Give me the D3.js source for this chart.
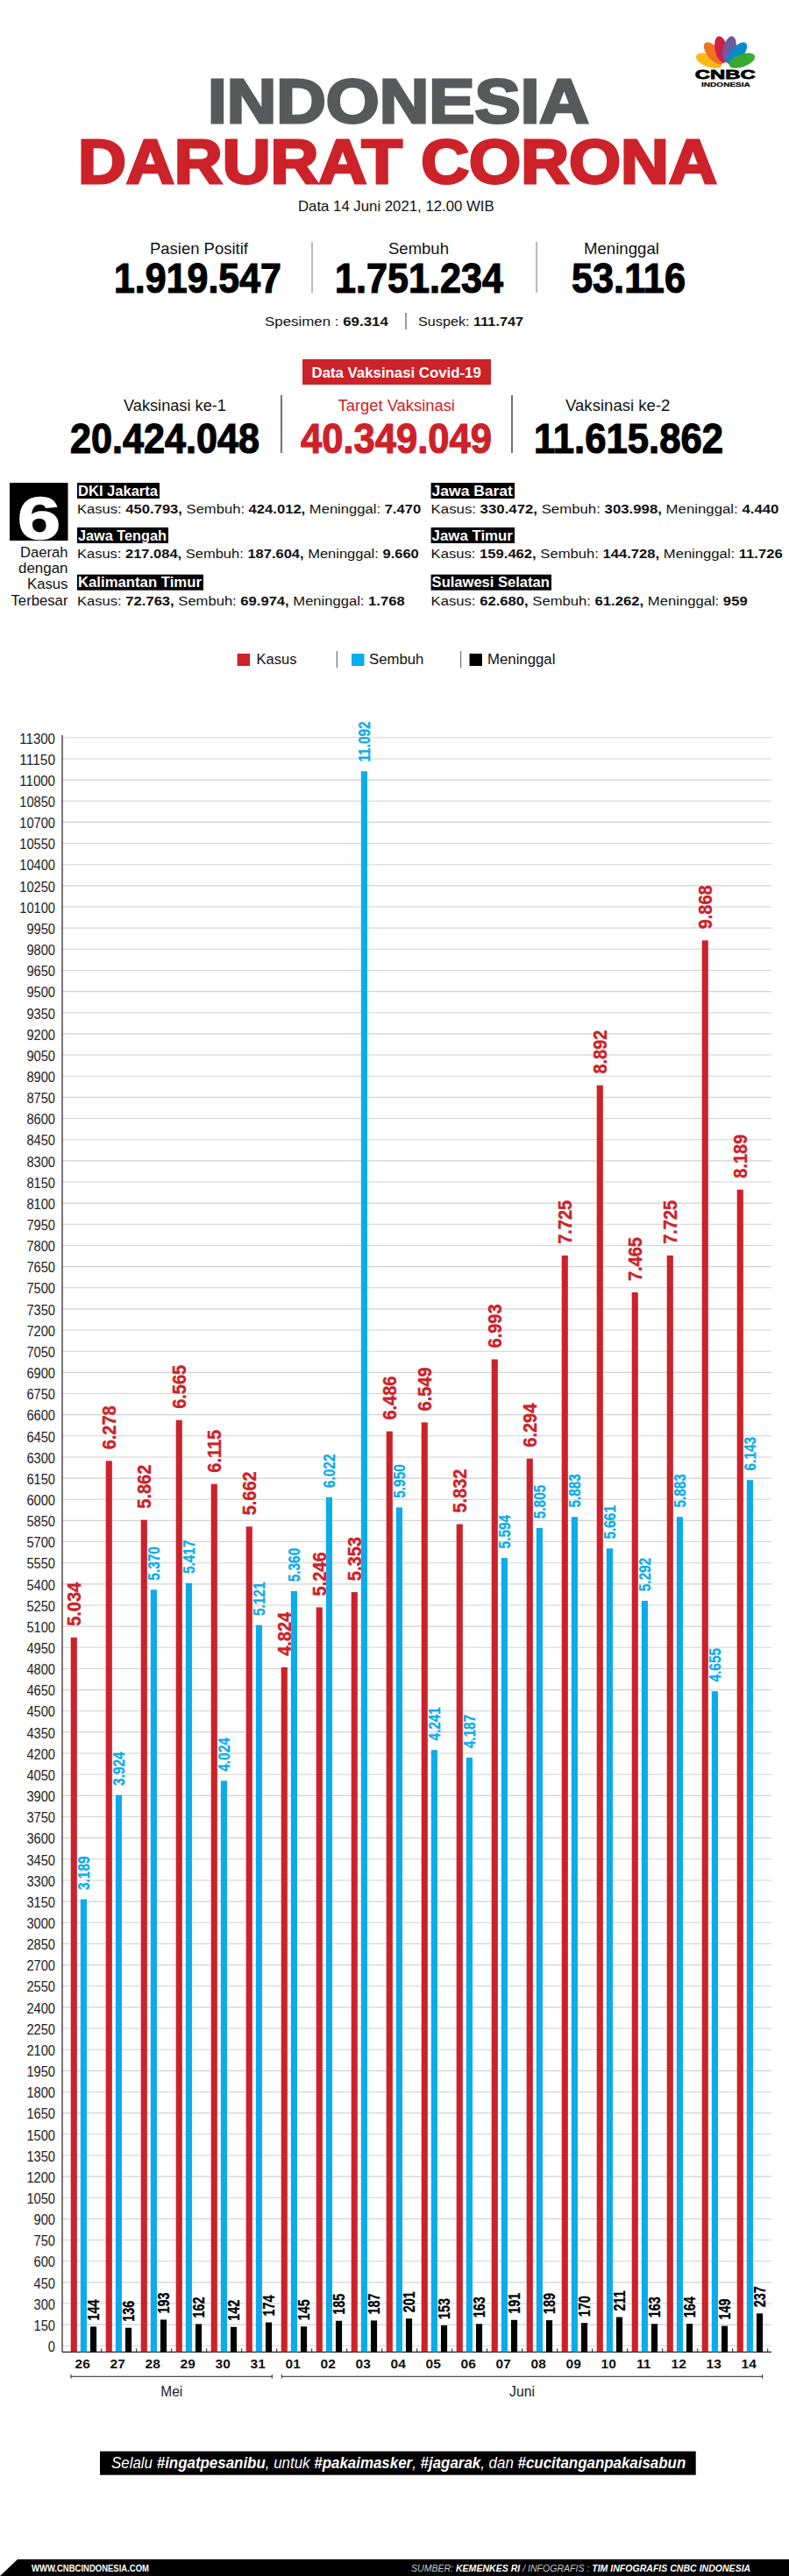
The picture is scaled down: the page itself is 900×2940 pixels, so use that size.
<!DOCTYPE html>
<html>
<head>
<meta charset="utf-8">
<title>Indonesia Darurat Corona</title>
<script src="https://cdn.jsdelivr.net/npm/d3@7"></script>
<style>
  html, body { margin: 0; padding: 0; background: #fff; }
  svg { display: block; }
  text { font-family: "Liberation Sans", Arial, sans-serif; }
</style>
</head>
<body>
<div id="chart"></div>
<script>
// data
const days = ["26","27","28","29","30","31","01","02","03","04","05","06","07","08","09","10","11","12","13","14"];
const kasus = [5034,6278,5862,6565,6115,5662,4824,5246,5353,6486,6549,5832,6993,6294,7725,8892,7465,7725,9868,8189];
const sembuh = [3189,3924,5370,5417,4024,5121,5360,6022,11092,5950,4241,4187,5594,5805,5883,5661,5292,5883,4655,6143];
const meninggal = [144,136,193,162,142,174,145,185,187,201,153,163,191,189,170,211,163,164,149,237];
// same as kasus, except that the bar of the 31st stands higher in the original than its label says
const kasusDrawn = [5034,6278,5862,6565,6115,5815,4824,5246,5353,6486,6549,5832,6993,6294,7725,8892,7465,7725,9868,8189];

// the labels are not regular, the original jumps from 8100 to 8150
const tickLabels = [0,150,300,450,600,750,900,1050,1200,1350,1500,1650,1800,1950,2100,2250,2400,2550,2700,2850,
  3000,3150,3300,3450,3600,3750,3900,4050,4200,4350,4500,4650,4800,4950,5100,5250,5400,5550,5700,5850,
  6000,6150,6300,6450,6600,6750,6900,7050,7200,7350,7500,7650,7800,7950,8100,8150,8300,8450,8600,8750,
  8900,9050,9200,9350,9500,9650,9800,9950,10100,10250,10400,10550,10700,10850,11000,11150,11300];

const months = ["Mei", "Juni"];

const statLabels = ["Pasien Positif", "Sembuh", "Meninggal"];
const statValues = ["1.919.547", "1.751.234", "53.116"];
const vaksinLabels = ["Vaksinasi ke-1", "Target Vaksinasi", "Vaksinasi ke-2"];
const vaksinValues = ["20.424.048", "40.349.049", "11.615.862"];

const regionNames = ["DKI Jakarta", "Jawa Barat", "Jawa Tengah", "Jawa Timur", "Kalimantan Timur", "Sulawesi Selatan"];
const regionKasus = ["450.793", "330.472", "217.084", "159.462", "72.763", "62.680"];
const regionSembuh = ["424.012", "303.998", "187.604", "144.728", "69.974", "61.262"];
const regionMeninggal = ["7.470", "4.440", "9.660", "11.726", "1.768", "959"];

const featherColors = ["#fdb913", "#f37021", "#cc1f4a", "#6e5a9e", "#0a89cb", "#3aa935"];

const RED = "#cc2229", BLUE = "#0aacec", BLACK = "#000", GRAY = "#58595b";

const svg = d3.select("#chart").append("svg").attr("width", 900).attr("height", 2940);

// puts a text with its left edge at x and squeezes it to the given width,
// there is no condensed face installed so the glyphs get scaled.
// o.squeeze gives a fixed factor instead of a width
function put(parent, parts, x, y, width, o = {}) {
    const t = parent.append("text")
        .attr("font-size", o.size || 16)
        .attr("font-weight", o.weight || "normal")
        .attr("font-style", o.italic ? "italic" : "normal")
        .attr("fill", o.fill || "#111");
    if (o.stroke) t.attr("stroke", o.fill || "#111").attr("stroke-width", o.stroke);
    [].concat(parts).forEach(p => {
        const s = typeof p === "string" ? {t: p} : p;
        t.append("tspan")
            .attr("font-weight", s.bold ? "bold" : null)
            .attr("fill", s.fill || null)
            .text(s.t);
    });
    const k = o.squeeze || width / t.node().getComputedTextLength();
    t.attr("transform", `translate(${x},${y}) rotate(${o.rotate || 0}) scale(${k},1)`);
    return t;
}

function vline(x, y1, y2, color, w) {
    svg.append("line").attr("x1", x).attr("x2", x).attr("y1", y1).attr("y2", y2)
        .attr("stroke", color).attr("stroke-width", w);
}

// ---- logo
const logo = svg.append("g").attr("class", "logo");
const featherAngles = [-70, -41, -13, 13, 41, 70];
logo.selectAll("ellipse").data(featherColors).join("ellipse")
    .attr("cx", 0).attr("cy", -20).attr("rx", 7.3).attr("ry", 15.5)
    .attr("fill", d => d)
    .attr("transform", (d, i) => `translate(827.5,76) rotate(${featherAngles[i]})`);
put(logo, "CNBC", 792.7, 89.5, 69, {size: 15.5, weight: "bold", fill: "#000", stroke: 0.8});
put(logo, "INDONESIA", 800, 98.5, 56, {size: 8, weight: "bold", fill: "#000", stroke: 0.2});

// ---- title
put(svg, "INDONESIA", 237, 139.5, 435, {size: 71, weight: "bold", fill: GRAY, stroke: 3});
put(svg, "DARURAT CORONA", 89, 209, 729, {size: 71, weight: "bold", fill: RED, stroke: 3});
put(svg, "Data 14 Juni 2021, 12.00 WIB", 340, 241, 224, {size: 16});

// ---- totals
const statX = [[171, 112], [443, 69], [666, 86]];
const statNumX = [[130, 191], [382, 192], [652, 130]];
statLabels.forEach((d, i) => put(svg, d, statX[i][0], 289.5, statX[i][1], {size: 17.5}));
statValues.forEach((d, i) => put(svg, d, statNumX[i][0], 334, statNumX[i][1], {size: 47.5, weight: "bold", fill: "#000", stroke: 1.2}));
vline(356, 276, 334, "#777", 1);
vline(612, 276, 334, "#777", 1);

put(svg, ["Spesimen : ", {t: "69.314", bold: true}], 302, 372, 141, {size: 15.5});
vline(463, 357, 376, "#333", 1);
put(svg, ["Suspek: ", {t: "111.747", bold: true}], 477, 372, 120, {size: 15.5});

// ---- vaccination
svg.append("rect").attr("x", 345).attr("y", 410).attr("width", 215).attr("height", 29).attr("fill", RED);
put(svg, "Data Vaksinasi Covid-19", 355.5, 431, 193.5, {size: 17, weight: "bold", fill: "#fff"});

const vaksinX = [[141, 117], [385.5, 133.5], [645, 119.5]];
const vaksinNumX = [[80, 216], [343, 218], [609, 216]];
vaksinLabels.forEach((d, i) => put(svg, d, vaksinX[i][0], 468.5, vaksinX[i][1], {size: 17.5, fill: i === 1 ? RED : "#111"}));
vaksinValues.forEach((d, i) => put(svg, d, vaksinNumX[i][0], 516.5, vaksinNumX[i][1],
    {size: 47.5, weight: "bold", fill: i === 1 ? RED : "#000", stroke: 1.2}));
vline(321, 451, 517, "#444", 1.5);
vline(584, 451, 517, "#444", 1.5);

// ---- six regions
svg.append("rect").attr("x", 11).attr("y", 551).attr("width", 66.5).attr("height", 66).attr("fill", "#000");
put(svg, "6", 20, 614.5, 49, {size: 68, weight: "bold", fill: "#fff", stroke: 1.5});
const sixLabels = ["Daerah", "dengan", "Kasus", "Terbesar"];
const sixX = [[23, 54.5], [21, 56.5], [31, 46.5], [12.5, 65]];
const sixY = [636, 653.5, 672, 690.5];
sixLabels.forEach((d, i) => put(svg, d, sixX[i][0], sixY[i], sixX[i][1], {size: 17}));

const regionCol = [88, 491.6, 88, 491.6, 88, 491.6];
const regionTop = [551, 551, 602, 602, 655.7, 655.7];
const regionNameW = [94, 95.4, 104, 95.4, 144, 137.4];
const regionLineW = [392.7, 397, 390, 401.4, 374, 361.4];
regionNames.forEach((d, i) => {
    const x = regionCol[i], top = regionTop[i];
    svg.append("rect").attr("x", x).attr("y", top).attr("width", regionNameW[i]).attr("height", 18).attr("fill", "#000");
    put(svg, d, x + 1, top + 14.7, regionNameW[i] - 3, {size: 16, weight: "bold", fill: "#fff"});
    put(svg, [
        "Kasus: ", {t: regionKasus[i] + ",", bold: true},
        " Sembuh: ", {t: regionSembuh[i] + ",", bold: true},
        " Meninggal: ", {t: regionMeninggal[i], bold: true}
    ], x, top + 34.8, regionLineW[i], {size: 15.5});
});

// ---- legend
const legendNames = ["Kasus", "Sembuh", "Meninggal"];
const legendColors = [RED, BLUE, BLACK];
const legendSwatchX = [270.6, 401, 535.5];
const legendTextX = [[292.5, 46], [421, 62.5], [556, 77.5]];
legendNames.forEach((d, i) => {
    svg.append("rect").attr("x", legendSwatchX[i]).attr("y", 746).attr("width", 14.5).attr("height", 14).attr("fill", legendColors[i]);
    put(svg, d, legendTextX[i][0], 758, legendTextX[i][1], {size: 17});
});
vline(384.3, 743, 762, "#555", 1);
vline(525.7, 743, 762, "#555", 1);

// ---- chart
const baseY = 2684.3, axisX = 71, gridRight = 880;

const x = d3.scaleBand().domain(days).range([75.7, 875.7]);
const inner = d3.scaleBand().domain(["kasus", "sembuh", "meninggal"]).range([5, 34.4]).paddingInner(0.36);

// the bars were drawn by hand, the top of the scale runs a bit steeper
const y = d3.scaleLinear().domain([0, 8189, 9868, 11092]).range([baseY, baseY - 1326.6, baseY - 1611, baseY - 1804]);
// the death bars stand on the 0 row a few pixels above the baseline
const yDeaths = d3.scaleLinear().domain([0, 237]).range([baseY - 5.5, baseY - 44]);

// the tick labels sit on evenly spaced rows that do not line up with the bars
const yTicks = d3.scalePoint().domain(tickLabels).range([2676.8, 841.3]);

const yAxis = svg.append("g").attr("class", "y-axis")
    .attr("transform", `translate(${axisX},0)`)
    .call(d3.axisLeft(yTicks).tickSize(-(gridRight - axisX)).tickPadding(8));
yAxis.select(".domain").remove();
yAxis.selectAll("line").attr("stroke", "#d2d2d2").attr("stroke-width", 1.1);
yAxis.selectAll("text")
    .attr("font-size", 16).attr("fill", "#222").attr("dy", "0.42em")
    .attr("lengthAdjust", "spacingAndGlyphs")
    .attr("textLength", d => String(d).length * 8.15);

vline(axisX, 839, baseY, "#555", 1.6);

const xAxis = svg.append("g").attr("class", "x-axis")
    .attr("transform", `translate(0,${baseY})`)
    .call(d3.axisBottom(x).tickSize(0).tickPadding(7.5));
xAxis.select(".domain").remove();
xAxis.selectAll("text")
    .attr("font-size", 15.5).attr("font-weight", "bold").attr("fill", "#111")
    .attr("dx", -1.5);

// small marks between the days
svg.selectAll(".day-tick").data(days).join("line")
    .attr("class", "day-tick")
    .attr("x1", d => x(d) + x.step()).attr("x2", d => x(d) + x.step())
    .attr("y1", baseY - 4).attr("y2", baseY)
    .attr("stroke", "#222").attr("stroke-width", 1);

svg.append("line").attr("x1", axisX).attr("x2", gridRight).attr("y1", baseY).attr("y2", baseY)
    .attr("stroke", "#222").attr("stroke-width", 1.3);

const fmt = d3.formatLocale({decimal: ",", thousands: ".", grouping: [3], currency: ["", ""]}).format(",");

const series = [
    {key: "kasus", values: kasus, drawn: kasusDrawn, scale: y, color: RED, size: 22, squeeze: 0.908, gap: 13, stroke: 0.4},
    {key: "sembuh", values: sembuh, drawn: sembuh, scale: y, color: BLUE, size: 18.5, squeeze: 0.832, gap: 10.7, stroke: 0.3},
    {key: "meninggal", values: meninggal, drawn: meninggal, scale: yDeaths, color: BLACK, size: 18.5, squeeze: 0.778, gap: 7, stroke: 0.3}
];

series.forEach(s => {
    svg.append("g").attr("class", "bars-" + s.key)
        .selectAll("rect").data(s.drawn).join("rect")
        .attr("x", (d, i) => x(days[i]) + inner(s.key))
        .attr("width", inner.bandwidth())
        .attr("y", d => s.scale(d))
        .attr("height", d => baseY - s.scale(d))
        .attr("fill", s.color);
});

// labels go after all the bars, some of the red ones run over a blue bar
series.forEach(s => {
    const g = svg.append("g").attr("class", "labels-" + s.key);
    s.values.forEach((d, i) => {
        const cx = x(days[i]) + inner(s.key) + inner.bandwidth() / 2;
        put(g, fmt(d), cx + s.size * 0.358, s.scale(s.drawn[i]) - s.gap, null,
            {size: s.size, weight: "bold", fill: s.color, rotate: -90, stroke: s.stroke, squeeze: s.squeeze});
    });
});

// month brackets
const bracketX = [[81, 310.3], [321.3, 869.7]];
const monthLabelX = [[183.3, 25], [581, 29]];
months.forEach((m, i) => {
    const [a, b] = bracketX[i];
    const g = svg.append("g").attr("class", "month");
    g.append("line").attr("x1", a).attr("x2", b).attr("y1", 2712.3).attr("y2", 2712.3).attr("stroke", "#222").attr("stroke-width", 1);
    [a, b].forEach(v => g.append("line").attr("x1", v).attr("x2", v).attr("y1", 2710).attr("y2", 2714.6).attr("stroke", "#222").attr("stroke-width", 1));
    put(g, m, monthLabelX[i][0], 2735, monthLabelX[i][1], {size: 16, fill: "#222"});
});

// ---- slogan
svg.append("rect").attr("x", 114).attr("y", 2797.7).attr("width", 679.7).attr("height", 27).attr("fill", "#000");
put(svg, [
    "Selalu ", {t: "#ingatpesanibu", bold: true}, ", untuk ", {t: "#pakaimasker", bold: true},
    ", ", {t: "#jagarak", bold: true}, ", dan ", {t: "#cucitanganpakaisabun", bold: true}
], 127, 2816.5, 655.7, {size: 17.5, italic: true, fill: "#fff"});

// ---- footer
svg.append("path").attr("d", "M0,2940L20,2921L900,2921L900,2940Z").attr("fill", "#000");
put(svg, "WWW.CNBCINDONESIA.COM", 36, 2935, 134, {size: 10, weight: "bold", fill: "#fff"});
put(svg, [
    "SUMBER: ", {t: "KEMENKES RI", bold: true, fill: "#fff"}, " / INFOGRAFIS : ",
    {t: "TIM INFOGRAFIS CNBC INDONESIA", bold: true, fill: "#fff"}
], 469, 2935, 388, {size: 10, italic: true, fill: "#ccc"});
</script>
</body>
</html>
